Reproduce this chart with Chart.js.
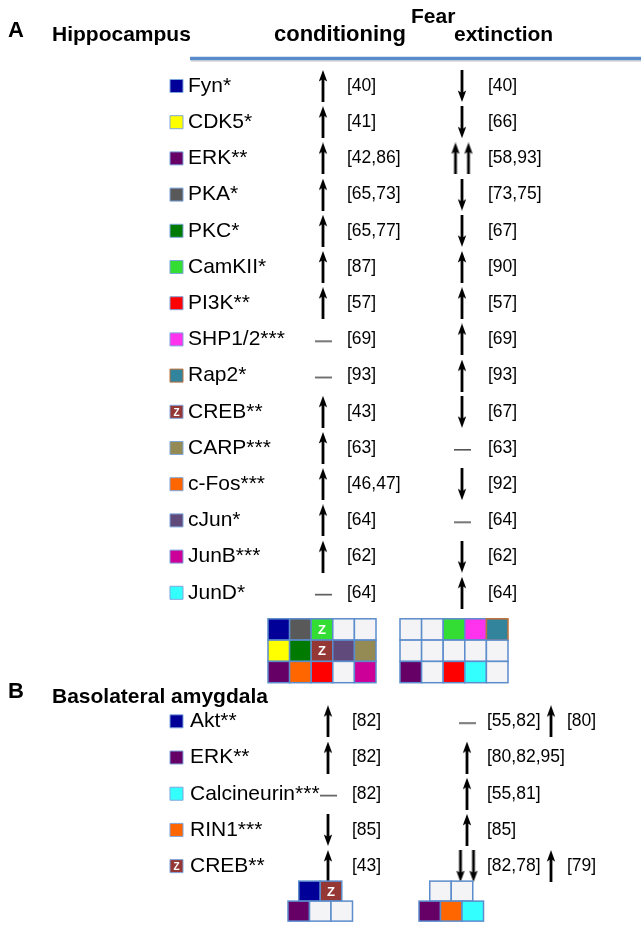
<!DOCTYPE html>
<html><head><meta charset="utf-8">
<script src="https://cdn.jsdelivr.net/npm/chart.js@4.4.0/dist/chart.umd.min.js"></script>
<style>html,body{margin:0;padding:0;background:#fff;}canvas{display:block}</style>
</head><body>
<canvas id="c" width="643" height="929"></canvas>
<script>
// ---------- DATA ----------
// Panel A: Hippocampus
const genesA = ['Fyn*','CDK5*','ERK**','PKA*','PKC*','CamKII*','PI3K**','SHP1/2***','Rap2*','CREB**','CARP***','c-Fos***','cJun*','JunB***','JunD*'];
const condA = ['up','up','up','up','up','up','up','none','none','up','up','up','up','up','none'];
const condRefsA = ['[40]','[41]','[42,86]','[65,73]','[65,77]','[87]','[57]','[69]','[93]','[43]','[63]','[46,47]','[64]','[62]','[64]'];
const extA = ['down','down','upup','down','down','up','up','up','up','down','none','down','none','down','up'];
const extRefsA = ['[40]','[66]','[58,93]','[73,75]','[67]','[90]','[57]','[69]','[93]','[67]','[63]','[92]','[64]','[62]','[64]'];
// Panel B: Basolateral amygdala
const genesB = ['Akt**','ERK**','Calcineurin***','RIN1***','CREB**'];
const condB = ['up','up','none','down','up'];
const condRefsB = ['[82]','[82]','[82]','[85]','[43]'];
const extB = ['none','up','up','up','downdown'];
const extRefsB = ['[55,82]','[80,82,95]','[55,81]','[85]','[82,78]'];
const ext2B = ['up',null,null,null,'up'];
const ext2RefsB = ['[80]',null,null,null,'[79]'];
// Summary grids (gene per cell)
const gridCondA = [['Fyn*','PKA*','CamKII*','SHP1/2***','Rap2*'],['CDK5*','PKC*','CREB**','cJun*','CARP***'],['ERK**','c-Fos***','PI3K**','JunD*','JunB***']];
const gridExtA = gridCondA;
const zCondA = ['CamKII*','CREB**'];
const gridCondB = [['Akt**','CREB**'],['ERK**','RIN1***','Calcineurin***']];
const gridExtB = gridCondB;
const zCondB = ['CREB**'];
const zLegend = ['CREB**'];
// gene colours
const geneColor = {'Fyn*':'#000099','CDK5*':'#ffff00','ERK**':'#660066','PKA*':'#595959','PKC*':'#007a00','CamKII*':'#33dd33','PI3K**':'#ff0000','SHP1/2***':'#ff33ee','Rap2*':'#31849b','CREB**':'#953735','CARP***':'#948a54','c-Fos***':'#ff6600','cJun*':'#604a7b','JunB***':'#cc0099','JunD*':'#33ffff','Akt**':'#000099','Calcineurin***':'#33ffff','RIN1***':'#ff6600'};
const geneBorder = {'Rap2*':'#c0703a'};

// ---------- STYLE / LAYOUT ----------
const FONT = '"Liberation Sans", Arial, sans-serif';
const ROW0 = 86, ROWH = 36.2;      // y scale: value = row index
const B_OFFSET = 17.55;            // panel B rows start at this row value
const COL = {
  A:{sq:176.5, label:188, cond:323, condRef:347, ext:462, extRef:488},
  B:{sq:176.5, label:190, cond:328, condRef:352, ext:467, extRef:487, ext2:551, ext2Ref:567}
};

function arrowImg(dir, n){
  const gap = 13, w = 12 + (n-1)*gap, h = 32;
  const c = document.createElement('canvas'); c.width = w; c.height = h;
  const g = c.getContext('2d'); g.fillStyle = '#000'; g.strokeStyle = '#000'; g.lineWidth = 2.8;
  for (let k=0;k<n;k++){
    const cx = 6 + k*gap;
    const tip = dir==='up' ? 0 : h, s = dir==='up' ? 1 : -1;
    g.beginPath(); g.moveTo(cx, h - tip); g.lineTo(cx, tip + s*8); g.stroke();
    g.beginPath(); g.moveTo(cx, tip); g.lineTo(cx-4.2, tip+s*11.5); g.lineTo(cx, tip+s*9); g.lineTo(cx+4.2, tip+s*11.5); g.closePath(); g.fill();
  }
  return c;
}
function dashImg(){
  const c = document.createElement('canvas'); c.width = 17; c.height = 10;
  const g = c.getContext('2d'); g.fillStyle = '#555'; g.fillRect(0,6,17,1.6);
  return c;
}
const IMG = {up:arrowImg('up',1), down:arrowImg('down',1), upup:arrowImg('up',2), downdown:arrowImg('down',2), none:dashImg()};

function markSet(dirs, x, off){
  const pts = [], styles = [];
  dirs.forEach((d,i)=>{ if(d){ pts.push({x:x, y:i+off}); styles.push(IMG[d]); } });
  return {data:pts, pointStyle:styles, pointRadius:5, backgroundColor:'#000', borderColor:'#000'};
}
function legendSet(genes, x, off){
  return {data:genes.map((g,i)=>({x:x, y:i+off})), pointStyle:'rect', pointRadius:9.2,
    backgroundColor:genes.map(g=>geneColor[g]), borderColor:genes.map(g=>geneBorder[g]||'#7ea6dc'), borderWidth:1};
}

const datasets = [
  legendSet(genesA, COL.A.sq, 0),
  legendSet(genesB, COL.B.sq, B_OFFSET),
  markSet(condA, COL.A.cond, 0),
  markSet(extA, COL.A.ext, 0),
  markSet(condB, COL.B.cond, B_OFFSET),
  markSet(extB, COL.B.ext, B_OFFSET),
  markSet(ext2B, COL.B.ext2, B_OFFSET)
];

const drawPlugin = {
  id:'figure',
  afterDatasetsDraw(chart){
    const ctx = chart.ctx, xs = chart.scales.x, ys = chart.scales.y;
    const X = v=>xs.getPixelForValue(v), Y = v=>ys.getPixelForValue(v);
    ctx.save();
    ctx.fillStyle = '#000';
    // headers
    ctx.textBaseline = 'alphabetic';
    ctx.font = 'bold 22px ' + FONT; ctx.fillText('A', 8, 37); ctx.fillText('B', 8, 698);
    ctx.font = 'bold 21px ' + FONT;
    ctx.fillText('Hippocampus', 52, 41);
    ctx.fillText('Basolateral amygdala', 52, 703);
    ctx.fillText('Fear', 411, 23);
    ctx.fillText('extinction', 454, 41);
    ctx.font = 'bold 22px ' + FONT;
    ctx.fillText('conditioning', 274, 41);
    // header rule
    ctx.strokeStyle = 'rgba(0,0,0,0.12)'; ctx.lineWidth = 2; ctx.beginPath(); ctx.moveTo(191, 61); ctx.lineTo(641, 61); ctx.stroke();
    ctx.strokeStyle = '#5a8ccb'; ctx.lineWidth = 3.5; ctx.beginPath(); ctx.moveTo(190, 58.5); ctx.lineTo(641, 58.5); ctx.stroke();
    // row texts
    ctx.textBaseline = 'middle';
    const rowText = (genes, off, c, refSets) => {
      genes.forEach((g,i)=>{
        const y = Y(i+off);
        ctx.font = '21px ' + FONT; ctx.fillText(g, c.label, y);
        if (zLegend.includes(g)){ ctx.save(); ctx.fillStyle='#fff'; ctx.font='bold 10px '+FONT; ctx.textAlign='center'; ctx.fillText('Z', X(c.sq), y+1); ctx.restore(); }
        ctx.font = '17.5px ' + FONT;
        refSets.forEach(([refs, x])=>{ if (refs[i]) ctx.fillText(refs[i], x, y); });
      });
    };
    rowText(genesA, 0, COL.A, [[condRefsA, X(COL.A.condRef)], [extRefsA, X(COL.A.extRef)]]);
    rowText(genesB, B_OFFSET, COL.B, [[condRefsB, X(COL.B.condRef)], [extRefsB, X(COL.B.extRef)], [ext2RefsB, X(COL.B.ext2Ref)]]);
    // grids
    const cell = (gene, dir, x, y, w, h, z) => {
      const on = dir && dir.startsWith('up');
      ctx.fillStyle = on ? geneColor[gene] : '#f4f4f6';
      ctx.fillRect(x, y, w, h);
      ctx.strokeStyle = (on && geneBorder[gene]) ? geneBorder[gene] : '#5b8ccc';
      ctx.lineWidth = 1.5; ctx.strokeRect(x, y, w, h);
      if (on && z.includes(gene)){ ctx.fillStyle='#fff'; ctx.font='bold 13px '+FONT; ctx.textAlign='center'; ctx.fillText('Z', x+w/2, y+h/2+1); ctx.textAlign='left'; }
    };
    const idxA = g=>genesA.indexOf(g), idxB = g=>genesB.indexOf(g);
    const drawGridA = (grid, dirs, left, z) => {
      const top = Y(genesA.length-1) + 26, w = 21.6, h = 21.3;
      grid.forEach((row,r)=>row.forEach((g,c)=>cell(g, dirs[idxA(g)], X(left)+c*w, top+r*h, w, h, z)));
    };
    drawGridA(gridCondA, condA, 268, zCondA);
    drawGridA(gridExtA, extA, 400, []);
    const drawGridB = (grid, dirs, left, z) => {
      const top = Y(genesB.length-1+B_OFFSET) + 15, w = 21.5, h = 20;
      grid.forEach((row,r)=>{
        const shift = (grid[grid.length-1].length - row.length) * w / 2;
        row.forEach((g,c)=>cell(g, dirs[idxB(g)], X(left)+shift+c*w, top+r*h, w, h, z));
      });
    };
    drawGridB(gridCondB, condB, 288, zCondB);
    drawGridB(gridExtB, extB, 419, []);
    ctx.restore();
  }
};

new Chart(document.getElementById('c'), {
  type:'scatter',
  data:{datasets},
  options:{
    responsive:false, animation:false, events:[],
    layout:{padding:0, autoPadding:false},
    plugins:{legend:{display:false}, tooltip:{enabled:false}},
    scales:{
      x:{type:'linear', min:0, max:643, display:false},
      y:{type:'linear', reverse:true, min:-ROW0/ROWH, max:(929-ROW0)/ROWH, display:false}
    }
  },
  plugins:[drawPlugin]
});
</script>
</body></html>
